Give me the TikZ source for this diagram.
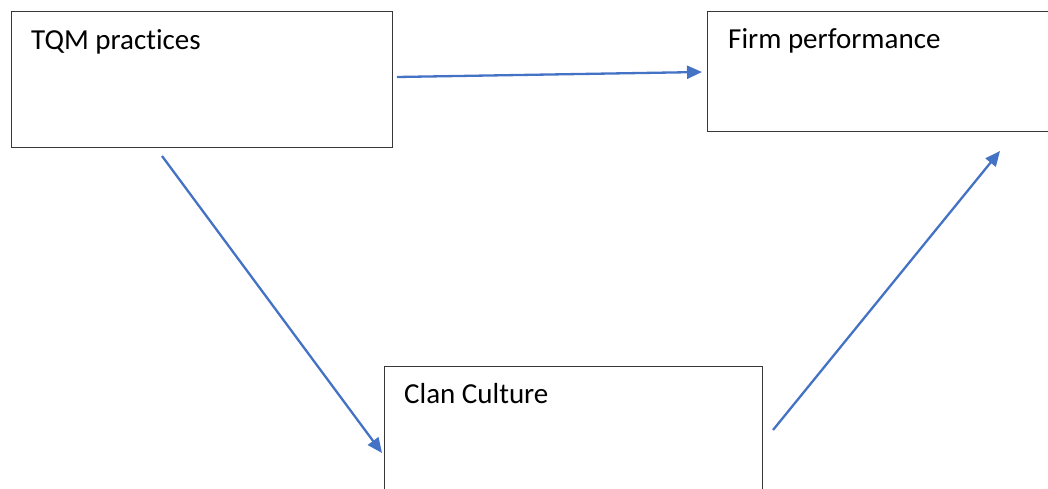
\documentclass[tikz,border=0pt]{standalone}
\usepackage{fontspec}
\setmainfont{Carlito}[Ligatures=NoCommon,RawFeature={-liga}]
\usetikzlibrary{arrows.meta}
\definecolor{arrowblue}{HTML}{4472C4}
\definecolor{boxline}{HTML}{383838}
\tikzset{
  box/.style={draw=boxline, line width=1.3pt, anchor=north west, inner sep=0pt},
  lbl/.style={anchor=base west, inner sep=0pt, font=\fontsize{29}{34}\selectfont},
  link/.style={draw=arrowblue, line width=2.3pt, -{Triangle[length=15pt,width=13pt]}}
}
\begin{document}
\begin{tikzpicture}[x=1pt,y=-1pt]
\useasboundingbox (0,0) rectangle (1048,489);
\node[box, minimum width=381pt, minimum height=136pt] (tqm) at (11,11) {};
\node[box, minimum width=360pt, minimum height=120pt] (firm) at (707,11) {};
\node[box, minimum width=378pt, minimum height=160pt] (clan) at (384,366) {};
\node[lbl] (tqmlbl) at (31,50) {TQM practices};
\node[lbl] (firmlbl) at (728,49) {Firm performance};
\node[lbl] (clanlbl) at (404,403) {Clan Culture};
\coordinate (a1s) at (397,77);
\coordinate (a1e) at (702,72);
\coordinate (a2s) at (162,156);
\coordinate (a2e) at (382,453);
\coordinate (a3s) at (773,430);
\coordinate (a3e) at (1000,151);
\draw[link] (a1s) -- (a1e);
\draw[link] (a2s) -- (a2e);
\draw[link] (a3s) -- (a3e);
\end{tikzpicture}
\end{document}
